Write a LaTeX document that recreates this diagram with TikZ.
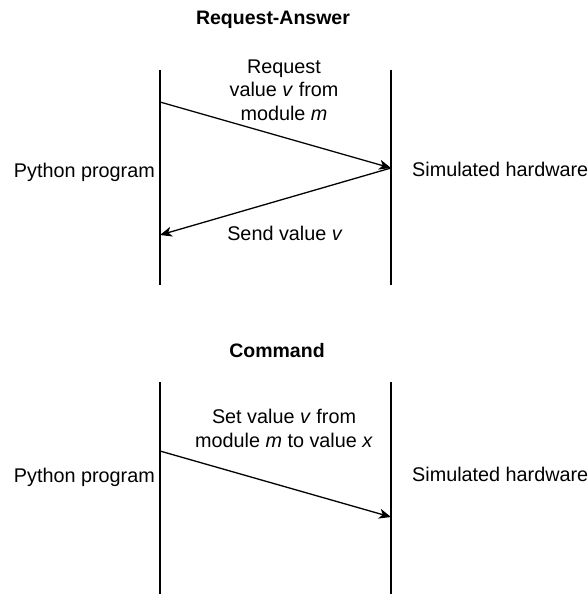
\documentclass[tikz,border=0pt]{standalone}
\usepackage{fontspec}
\setmainfont{Liberation Sans}
\usetikzlibrary{arrows.meta}
\begin{document}
\begin{tikzpicture}[x=1pt,y=-1pt,
  lifeline/.style={line width=1.5pt,draw=black},
  msg/.style={line width=1.3pt,draw=black,-{Stealth[length=12pt,width=10pt,inset=3.5pt]}},
  lbl/.style={inner sep=0pt,align=center,font=\fontsize{19.8}{23.5}\selectfont},
  ttl/.style={inner sep=0pt,font=\fontsize{19.5}{23.5}\selectfont\bfseries}]
\useasboundingbox (0,0) rectangle (588,594);

% --- Request-Answer exchange ---
\node[ttl,anchor=base] (t1) at (273,25) {Request-Answer};
\coordinate (p1top) at (160,70);
\coordinate (p1bot) at (160,285);
\coordinate (h1top) at (391,70);
\coordinate (h1bot) at (391,285);
\draw[lifeline] (p1top) -- (p1bot);
\draw[lifeline] (h1top) -- (h1bot);
\node[lbl,anchor=base east] (py1) at (155,177) {Python program};
\node[lbl,anchor=base west] (hw1) at (412,176) {Simulated hardware};
\coordinate (req0) at (160,102);
\coordinate (req1) at (391,168);
\coordinate (ans1) at (160,235);
\draw[msg] (req0) -- (req1);
\draw[msg] (req1) -- (ans1);
% multi-line labels are anchored on the baseline of their last line
\node[lbl,anchor=base] (rq) at (284,120) {Request\\value \textit{v} from\\module \textit{m}};
\node[lbl,anchor=base] (sv) at (285,240) {Send value \textit{v}};

% --- Command exchange ---
\node[ttl,anchor=base] (t2) at (277,357) {Command};
\coordinate (p2top) at (160,382);
\coordinate (p2bot) at (160,594);
\coordinate (h2top) at (391,382);
\coordinate (h2bot) at (391,594);
\draw[lifeline] (p2top) -- (p2bot);
\draw[lifeline] (h2top) -- (h2bot);
\node[lbl,anchor=base east] (py2) at (155,482) {Python program};
\node[lbl,anchor=base west] (hw2) at (412,481) {Simulated hardware};
\coordinate (cmd0) at (160,451);
\coordinate (cmd1) at (391,517);
\draw[msg] (cmd0) -- (cmd1);
\node[lbl,anchor=base] (sc) at (284,447) {Set value \textit{v} from\\module \textit{m} to value \textit{x}};
\end{tikzpicture}
\end{document}
